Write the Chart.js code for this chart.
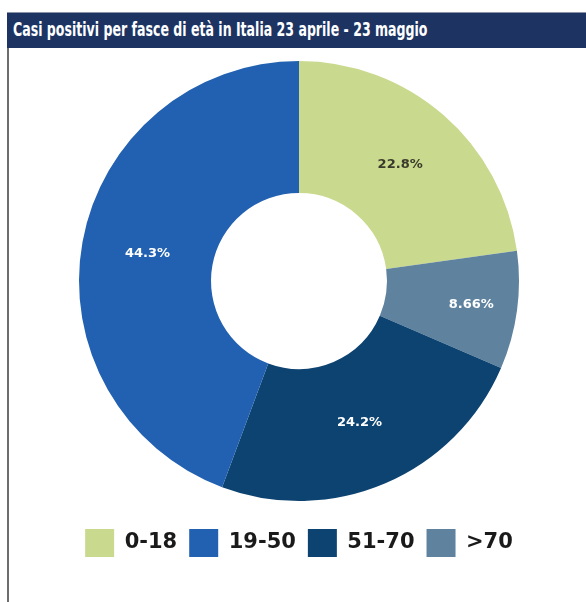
<!DOCTYPE html>
<html>
<head>
<meta charset="utf-8">
<script src="https://cdn.jsdelivr.net/npm/chart.js@4.4.0/dist/chart.umd.min.js"></script>
<style>
  body { margin: 0; background: #fff; width: 586px; height: 602px; overflow: hidden; position: relative; }
  #title {
    position: absolute; left: 7px; top: 12px; width: 579px; height: 36px;
    box-sizing: border-box; padding-left: 6px;
    background: #1d3463; border-top: 1px solid #8a93a8;
    color: #fff; line-height: 36px; white-space: nowrap; overflow: hidden;
  }
  #title span {
    display: inline-block; transform: scaleX(0.735); transform-origin: left center;
    font: bold 19px "DejaVu Sans Condensed", "DejaVu Sans", sans-serif;
  }
  #frame { position: absolute; left: 7px; top: 48px; width: 2px; height: 554px; background: #6d6d6d; }
  #wrap { position: absolute; left: 9px; top: 45px; width: 577px; height: 557px; }
</style>
</head>
<body>
<div id="title"><span>Casi positivi per fasce di età in Italia 23 aprile - 23 maggio</span></div>
<div id="frame"></div>
<div id="wrap"><canvas id="ageChart"></canvas></div>
<script>
// slices go clockwise from 12 o'clock
var ageGroups = ['0-18', '>70', '51-70', '19-50'];
var shares = [22.8, 8.66, 24.2, 44.3];
var sliceColors = ['#c9d98e', '#5f829f', '#0d4371', '#2261b1'];
var textColors = ['#3a3a2c', '#ffffff', '#ffffff', '#ffffff'];
// legend reads in age order
var legendOrder = ['0-18', '19-50', '51-70', '>70'];

// writes the percentage inside each slice
var sliceLabels = {
  id: 'sliceLabels',
  afterDatasetsDraw: function(chart) {
    var ctx = chart.ctx;
    var arcs = chart.getDatasetMeta(0).data;
    ctx.save();
    ctx.font = 'bold 13px "DejaVu Sans", sans-serif';
    ctx.textAlign = 'center';
    ctx.textBaseline = 'middle';
    for (var i = 0; i < arcs.length; i++) {
      var arc = arcs[i];
      var mid = (arc.startAngle + arc.endAngle) / 2;
      var r = (arc.innerRadius + arc.outerRadius) / 2;
      if (shares[i] < 10) {
        r = arc.innerRadius + 0.65 * (arc.outerRadius - arc.innerRadius);  // thin slice, push it out a bit
      }
      ctx.fillStyle = textColors[i];
      ctx.fillText(shares[i] + '%', arc.x + Math.cos(mid) * r, arc.y + Math.sin(mid) * r);
    }
    ctx.restore();
  }
};

var ctx = document.getElementById('ageChart').getContext('2d');
var ageChart = new Chart(ctx, {
  type: 'doughnut',
  data: {
    labels: ageGroups,
    datasets: [{
      data: shares,
      backgroundColor: sliceColors,
      borderWidth: 0
    }]
  },
  options: {
    responsive: true,
    maintainAspectRatio: false,
    animation: false,
    radius: 220,
    cutout: '40%',
    layout: { padding: { top: 0, left: 3, right: 0, bottom: 35 } },
    plugins: {
      tooltip: { enabled: false },
      legend: {
        position: 'bottom',
        labels: {
          boxWidth: 29,
          boxHeight: 28,
          padding: 12,
          color: '#1a1a1a',
          font: { family: '"DejaVu Sans", sans-serif', size: 21, weight: 'bold' },
          sort: function(a, b) {
            return legendOrder.indexOf(a.text) - legendOrder.indexOf(b.text);
          }
        }
      }
    }
  },
  plugins: [sliceLabels]
});
</script>
</body>
</html>
